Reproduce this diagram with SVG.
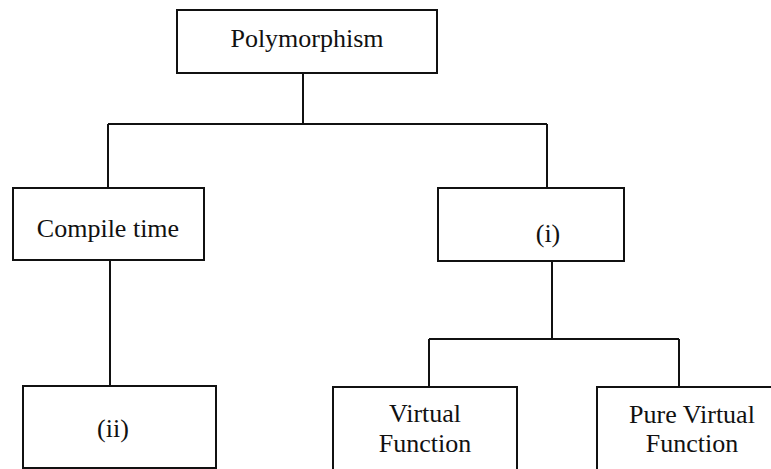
<svg xmlns="http://www.w3.org/2000/svg" width="771" height="469" viewBox="0 0 771 469">
<style>
.box{fill:#fff;stroke:#111;stroke-width:2}
.ln{fill:none;stroke:#111;stroke-width:2}
.t{font-family:"Liberation Serif","Times New Roman",serif;font-size:26px;fill:#111;text-anchor:middle}
</style>
<rect width="771" height="469" fill="#fff"/>
<g id="connectors">
<path class="ln" d="M303 73V124M108 124H547M108 124V188M547 124V188"/>
<path class="ln" d="M110 260V386"/>
<path class="ln" d="M552 261V339M429 339H679M429 339V387M679 339V387"/>
</g>
<g id="polymorphism">
<rect class="box" x="177" y="10" width="260" height="63"/>
<text class="t" x="307" y="47">Polymorphism</text>
</g>
<g id="compile-time">
<rect class="box" x="13" y="188" width="191" height="72"/>
<text class="t" x="108" y="237">Compile time</text>
</g>
<g id="node-i">
<rect class="box" x="438" y="188" width="186" height="73"/>
<text class="t" x="548" y="242">(i)</text>
</g>
<g id="node-ii">
<rect class="box" x="23" y="386" width="193" height="82"/>
<text class="t" x="113" y="437">(ii)</text>
</g>
<g id="virtual-function">
<rect class="box" x="333" y="387" width="184" height="90"/>
<text class="t" x="425" y="422">Virtual</text>
<text class="t" x="425" y="452">Function</text>
</g>
<g id="pure-virtual-function">
<rect class="box" x="597" y="387" width="190" height="90"/>
<text class="t" x="692" y="423">Pure Virtual</text>
<text class="t" x="692" y="452">Function</text>
</g>
</svg>
